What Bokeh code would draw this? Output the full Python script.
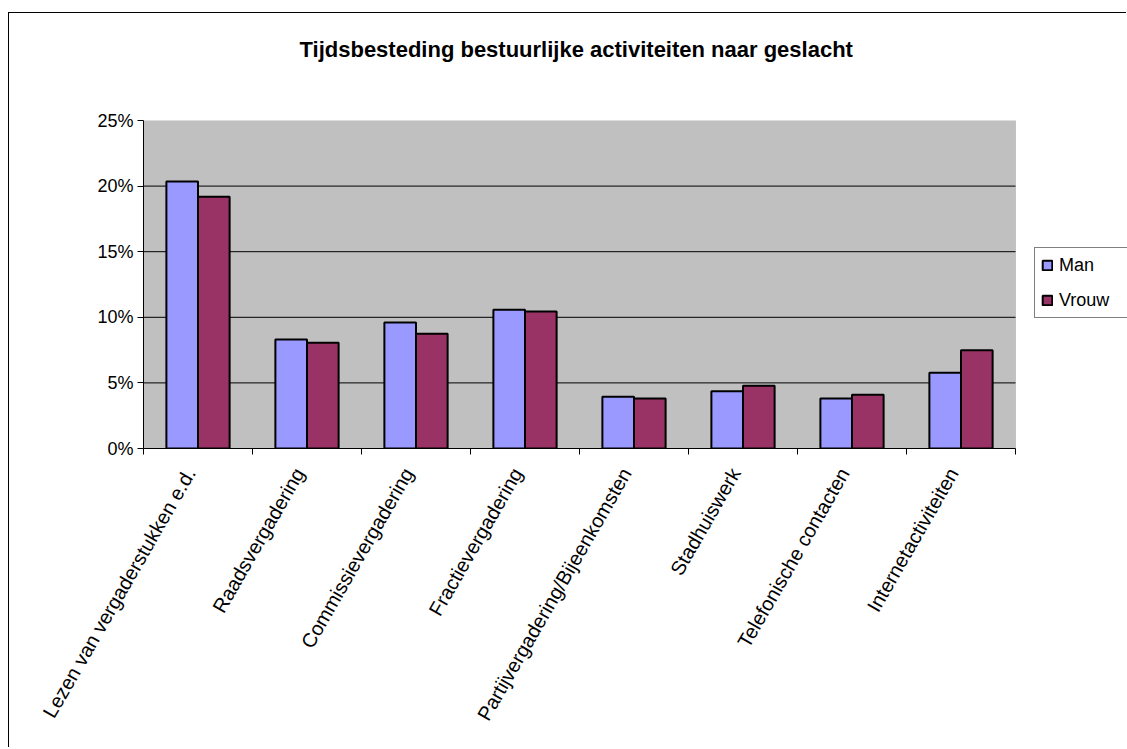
import math
from bokeh.plotting import figure
from bokeh.models import (ColumnDataSource, FixedTicker, NumeralTickFormatter, Legend,
                          LegendItem, Range1d, BoxAnnotation, Title)
from bokeh.embed import file_html
from bokeh.resources import INLINE

categories = ["Lezen van vergaderstukken e.d.", "Raadsvergadering", "Commissievergadering",
              "Fractievergadering", "Partijvergadering/Bijeenkomsten", "Stadhuiswerk",
              "Telefonische contacten", "Internetactiviteiten"]
man = [0.2035, 0.0831, 0.0960, 0.1057, 0.0394, 0.0437, 0.0381, 0.0577]
vrouw = [0.1918, 0.0806, 0.0874, 0.1044, 0.0381, 0.0478, 0.0409, 0.0749]
y_ticks = [0, 0.05, 0.10, 0.15, 0.20, 0.25]

FONT = "Liberation Sans"
n = len(categories)
centers = [i + 0.5 for i in range(n)]
label_pos = [c - 0.07 for c in centers]
bw = 0.29

# plot area 872px wide for the categories; frame continues to the right edge (legend area)
PLOT_W, FRAME_W = 872, 984
x_end = n * FRAME_W / PLOT_W

src = ColumnDataSource(dict(
    xm=[c - bw / 2 for c in centers],
    xv=[c + bw / 2 for c in centers],
    man=man, vrouw=vrouw,
))
grid_src = ColumnDataSource(dict(
    x0=[0] * (len(y_ticks) - 2), x1=[n] * (len(y_ticks) - 2), y=y_ticks[1:-1],
))

p = figure(width=1118, height=735, output_backend="svg", toolbar_location=None,
           x_range=Range1d(0, x_end), y_range=Range1d(0, 0.25),
           min_border_left=134, min_border_right=0, min_border_top=107,
           min_border_bottom=300)
p.title = None
p.styles = {"border-left": "1px solid black", "border-top": "1px solid black",
            "margin-top": "12px", "margin-left": "8px"}

p.border_fill_color = "white"
p.background_fill_color = "white"
p.outline_line_color = None
p.grid.grid_line_color = None

p.add_layout(BoxAnnotation(left=0, right=n, bottom=0, top=0.25, fill_color="#C0C0C0",
                           fill_alpha=1, line_color="#808080", line_width=1,
                           level="underlay"))
p.segment(x0="x0", x1="x1", y0="y", y1="y", source=grid_src, line_color="black",
          line_width=1)

r1 = p.vbar(x="xm", top="man", width=bw, source=src, fill_color="#9999FF",
            line_color="black", line_width=2)
r2 = p.vbar(x="xv", top="vrouw", width=bw, source=src, fill_color="#993366",
            line_color="black", line_width=2)

# Title (spacer first, then the title itself further out)
p.add_layout(Title(text=" ", text_font_size="22px", standoff=32), "above")
p.add_layout(Title(text="Tijdsbesteding bestuurlijke activiteiten naar geslacht",
                   align="left", offset=156, standoff=0, text_font=FONT,
                   text_font_size="22px", text_font_style="bold", text_color="black"),
             "above")

# Y axis
p.yaxis.ticker = FixedTicker(ticks=y_ticks)
p.yaxis.formatter = NumeralTickFormatter(format="0%")
p.yaxis.major_label_text_font = FONT
p.yaxis.major_label_text_font_size = "18px"
p.yaxis.major_label_text_color = "black"
p.yaxis.axis_line_color = "black"
p.yaxis.major_tick_line_color = "black"
p.yaxis.major_tick_in = 0
p.yaxis.major_tick_out = 6
p.yaxis.minor_tick_line_color = None
p.yaxis.major_label_standoff = 4

# X axis: labels near centres, tick marks at category boundaries
p.xaxis.bounds = (0, n)
p.xaxis.ticker = FixedTicker(ticks=label_pos, minor_ticks=list(range(n + 1)))
p.xaxis.major_label_overrides = {c: lab for c, lab in zip(label_pos, categories)}
p.xaxis.major_label_orientation = math.pi / 3
p.xaxis.major_label_text_font = FONT
p.xaxis.major_label_text_font_size = "20px"
p.xaxis.major_label_text_color = "black"
p.xaxis.axis_line_color = "black"
p.xaxis.major_tick_line_color = None
p.xaxis.minor_tick_line_color = "black"
p.xaxis.minor_tick_in = 0
p.xaxis.minor_tick_out = 6
p.xaxis.major_label_standoff = 15

legend = Legend(items=[LegendItem(label="Man", renderers=[r1]),
                       LegendItem(label="Vrouw", renderers=[r2])],
                location=(891, 130))
legend.border_line_color = "black"
legend.border_line_width = 1
legend.background_fill_color = "white"
legend.background_fill_alpha = 1
legend.label_text_font = FONT
legend.label_text_font_size = "18px"
legend.label_text_color = "black"
legend.glyph_width = 12
legend.glyph_height = 12
legend.label_height = 22
legend.label_width = 66
legend.spacing = 13
legend.padding = 6
legend.margin = 0
legend.label_standoff = 6
p.add_layout(legend, "center")

open("out.html", "w").write(file_html(p, INLINE))
